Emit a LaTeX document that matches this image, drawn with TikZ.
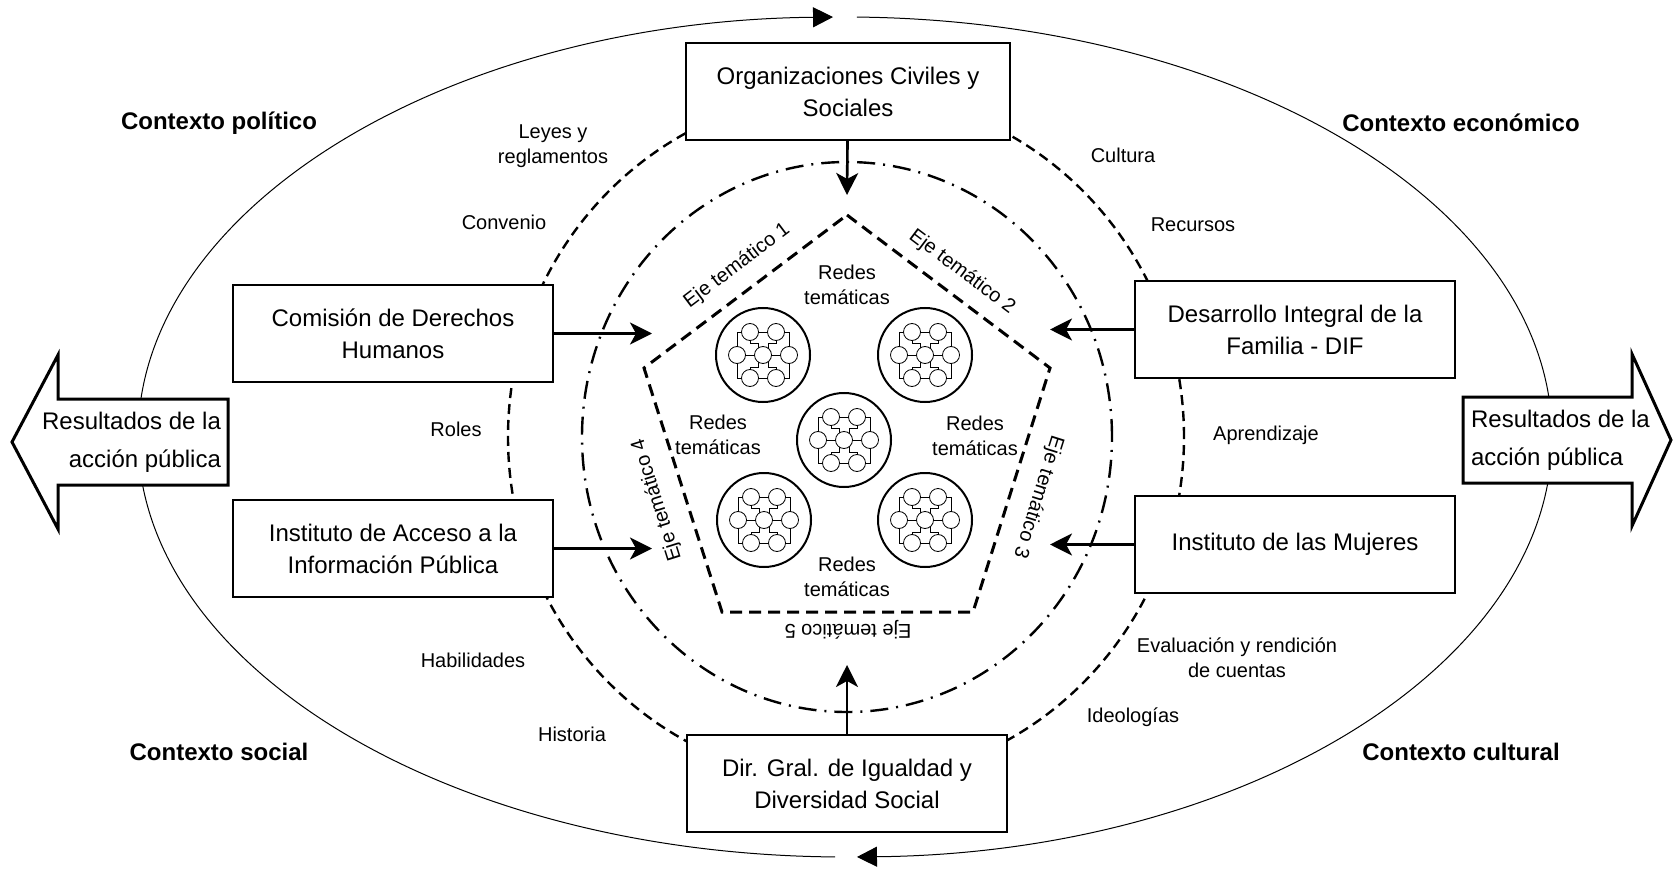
\documentclass[tikz,border=0pt]{standalone}
\usepackage{fontspec}
\setmainfont{Liberation Sans}
\usetikzlibrary{arrows.meta}
\begin{document}
\begin{tikzpicture}[x=0.5pt, y=0.5pt,
    actor/.style={draw, line width=1.2pt, fill=white, minimum width=160pt, minimum height=48.5pt, align=center, font=\fontsize{12}{16}\selectfont},
    ctx/.style={font=\fontsize{12}{14}\selectfont\bfseries},
    factor/.style={align=center, font=\fontsize{10}{12.5}\selectfont},
    eje/.style={font=\fontsize{10}{12}\selectfont},
    resarrow/.style={draw, line width=1.5pt, fill=white},
    restext/.style={font=\fontsize{12}{19}\selectfont},
    flow/.style={line width=1.3pt, -{Stealth[length=11pt, width=11pt, inset=3pt]}},
    ciclo/.style={line width=0.5pt, -{Triangle[length=10pt, width=10pt]}},
    redcirc/.style={draw, circle, line width=1pt, minimum size=47pt, inner sep=0pt},
    netw/.pic={
      \draw[line width=0.4pt] (-13,23) -- (13,23) (-26,0) -- (26,0) (-13,-23) -- (13,-23)
        (-13,23) -| (-26,0) |- (-13,-23)
        (13,23) -| (26,0) |- (13,-23)
        (-13,23) |- (-5,12) -- (-5,-12) -| (-13,-23)
        (13,23) |- (5,12) -- (5,-12) -| (13,-23);
      \foreach \p in {(-13,23),(13,23),(-26,0),(0,0),(26,0),(-13,-23),(13,-23)}
        \draw[line width=0.4pt, fill=white] \p circle[radius=8.5];
    }]
\useasboundingbox (0,0) rectangle (1675,869);

\coordinate (ctr) at (845,432);
\draw[ciclo] ([shift={(269.19:707 and 420)}]ctr) arc[start angle=269.19, end angle=90.97, x radius=707, y radius=420];
\draw[ciclo] ([shift={(89.03:707 and 420)}]ctr) arc[start angle=89.03, end angle=-89.03, x radius=707, y radius=420];

\draw[line width=1.2pt, dash pattern=on 5pt off 3pt] (846,432) ellipse[x radius=338, y radius=345];
\draw[line width=1.2pt, dash pattern=on 9pt off 4pt on 1pt off 4pt] (847,432) ellipse[x radius=265, y radius=275];

\coordinate (p1) at (847,654);
\coordinate (p2) at (1050,501);
\coordinate (p3) at (973,257);
\coordinate (p4) at (722,257);
\coordinate (p5) at (644,501);
\draw[line width=1.5pt, dash pattern=on 6pt off 3.5pt] (p1) -- (p2) -- (p3) -- (p4) -- (p5) -- cycle;

\node[eje, rotate=37] (eje1) at (737,603) {Eje temático 1};
\node[eje, rotate=-37] (eje2) at (962,597) {Eje temático 2};
\node[eje, rotate=-107.5] (eje3) at (1038,372) {Eje temático 3};
\node[eje, rotate=107.5] (eje4) at (657,369) {Eje temático 4};
\node[eje, rotate=180] (eje5) at (848,239) {Eje temático 5};

\node[redcirc] (rt1) at (763,514) {};
\node[redcirc] (rt2) at (925,514) {};
\node[redcirc] (rt3) at (844,429) {};
\node[redcirc] (rt4) at (764,349) {};
\node[redcirc] (rt5) at (925,349) {};
\foreach \n in {rt1,rt2,rt3,rt4,rt5}
  \pic at (\n) {netw};

\node[factor] (red1) at (847,584) {Redes\\temáticas};
\node[factor] (red2) at (718,434) {Redes\\temáticas};
\node[factor] (red3) at (975,433) {Redes\\temáticas};
\node[factor] (red4) at (847,292) {Redes\\temáticas};

\node[actor, minimum width=162pt] (org) at (848,777.5) {Organizaciones Civiles y\\Sociales};
\node[actor] (cdh) at (393,535.5) {Comisión de Derechos\\Humanos};
\node[actor] (inf) at (393,320.5) {Instituto de Acceso a la\\Información Pública};
\node[actor] (dif) at (1295,539.5) {Desarrollo Integral de la\\Familia - DIF};
\node[actor] (muj) at (1295,324.5) {Instituto de las Mujeres};
\node[actor] (dir) at (847,85.5) {Dir. Gral. de Igualdad y\\Diversidad Social};

\coordinate (t-org) at (847,674);
\coordinate (t-dir) at (847,204);
\coordinate (t-cdh) at (652,535.5);
\coordinate (t-inf) at (652,320.5);
\coordinate (t-dif) at (1050,539.5);
\coordinate (t-muj) at (1050,324.5);
\draw[flow] (org) -- (t-org);
\draw[flow] (dir) -- (t-dir);
\draw[flow] (cdh) -- (t-cdh);
\draw[flow] (inf) -- (t-inf);
\draw[flow] (dif) -- (t-dif);
\draw[flow] (muj) -- (t-muj);

\draw[resarrow] (12,427) -- (58,514) -- (58,470) -- (228,470) -- (228,384) -- (58,384) -- (58,340) -- cycle;
\node[restext, anchor=east, align=right] (resl) at (228,427) {Resultados de la\\acción pública};
\draw[resarrow] (1671,429) -- (1632,515) -- (1632,472) -- (1463,472) -- (1463,386) -- (1632,386) -- (1632,343) -- cycle;
\node[restext, anchor=west, align=left] (resr) at (1464,429) {Resultados de la\\acción pública};

\node[ctx] (pol) at (219,746) {Contexto político};
\node[ctx] (eco) at (1461,746) {Contexto económico};
\node[ctx] (soc) at (219,117) {Contexto social};
\node[ctx] (cul) at (1461,117) {Contexto cultural};

\node[factor] (leyes) at (553,723) {Leyes y\\reglamentos};
\node[factor] (conv) at (504,647) {Convenio};
\node[factor] (cult) at (1123,714) {Cultura};
\node[factor] (recu) at (1193,644) {Recursos};
\node[factor] (roles) at (456,440) {Roles};
\node[factor] (apre) at (1266,434) {Aprendizaje};
\node[factor] (habi) at (473,209) {Habilidades};
\node[factor] (hist) at (572,135) {Historia};
\node[factor] (eval) at (1237,211) {Evaluación y rendición\\de cuentas};
\node[factor] (ideo) at (1133,152) {Ideologías};
\end{tikzpicture}
\end{document}
